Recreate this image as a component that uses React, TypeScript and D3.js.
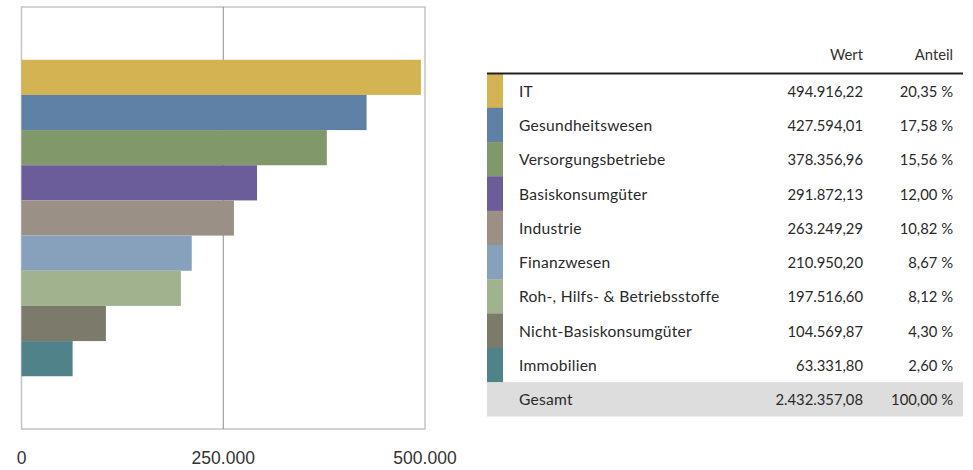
import React from "react";
import * as d3 from "d3";

const categories = [
  "IT",
  "Gesundheitswesen",
  "Versorgungsbetriebe",
  "Basiskonsumgüter",
  "Industrie",
  "Finanzwesen",
  "Roh-, Hilfs- & Betriebsstoffe",
  "Nicht-Basiskonsumgüter",
  "Immobilien",
];
const values = [494916.22, 427594.01, 378356.96, 291872.13, 263249.29, 210950.2, 197516.6, 104569.87, 63331.8];
const shares = [20.35, 17.58, 15.56, 12.0, 10.82, 8.67, 8.12, 4.3, 2.6];
const colors = ["#d4b353", "#5f81a6", "#81986a", "#6a5d9a", "#9a9085", "#87a1bd", "#a1b28f", "#7c7a6b", "#4f8389"];
const totalLabel = "Gesamt";
const totalValue = 2432357.08;
const totalShare = 100.0;
const xTicks = [0, 250000, 500000];
const headers = ["Wert", "Anteil"];

const de = d3.formatLocale({
  decimal: ",",
  thousands: ".",
  grouping: [3],
  currency: ["", " €"],
});
const fmtVal = de.format(",.2f");
const fmtTick = de.format(",.0f");
const fmtShare = (v: number) => de.format(",.2f")(v) + " %";

export default function App() {
  const W = 973;
  const H = 470;
  const plot = { left: 21.5, right: 425, top: 7, bottom: 429 };
  const x = d3.scaleLinear().domain([0, 500000]).range([plot.left, plot.right]);
  const y = d3
    .scaleBand<string>()
    .domain(categories)
    .range([plot.top, plot.bottom])
    .paddingInner(0)
    .paddingOuter(1.5);

  const tbl = { left: 487, right: 963, headerY: 73.5, rowH: 34.3, swatchW: 16, labelX: 519, wertX: 863, anteilX: 953 };
  const tableFont = "Lato, 'Noto Sans', sans-serif";
  const rowY = (i: number) => tbl.headerY + i * tbl.rowH;
  const labelSize = 15.6;
  const numSize = 14.8;
  const ls = 0.25;

  return (
    <svg width={W} height={H} style={{ position: "absolute", left: 0, top: 0, background: "#fff" }}>
      {/* plot frame */}
      <rect x={plot.left} y={plot.top} width={plot.right - plot.left} height={plot.bottom - plot.top} fill="#fff" stroke="#c4c4c4" strokeWidth={1.5} />
      {xTicks.slice(1, -1).map((t) => (
        <line key={t} x1={x(t)} x2={x(t)} y1={plot.top} y2={plot.bottom} stroke="#8c8c8c" strokeWidth={1} />
      ))}
      {categories.map((c, i) => (
        <rect key={c} x={x(0)} y={y(c)!} width={x(values[i]) - x(0)} height={y.bandwidth()} fill={colors[i]} />
      ))}
      {xTicks.map((t) => (
        <text key={t} x={x(t)} y={464} textAnchor="middle" fontFamily="'Liberation Sans', Arial, sans-serif" fontSize={17.5} fill="#333">
          {fmtTick(t)}
        </text>
      ))}

      {/* table */}
      <g fontFamily={tableFont} fill="#2a2a2a">
        <text x={tbl.wertX} y={60} textAnchor="end" fill="#333" fontSize={numSize}>{headers[0]}</text>
        <text x={tbl.anteilX} y={60} textAnchor="end" fill="#333" fontSize={numSize}>{headers[1]}</text>
        {categories.map((c, i) => (
          <g key={c}>
            <rect x={tbl.left} y={rowY(i)} width={tbl.swatchW} height={tbl.rowH + 0.3} fill={colors[i]} />
            <text x={tbl.labelX} y={rowY(i) + tbl.rowH / 2} dominantBaseline="central" fontSize={labelSize} letterSpacing={ls}>{c}</text>
            <text x={tbl.wertX} y={rowY(i) + tbl.rowH / 2} dominantBaseline="central" textAnchor="end" fontSize={numSize}>{fmtVal(values[i])}</text>
            <text x={tbl.anteilX} y={rowY(i) + tbl.rowH / 2} dominantBaseline="central" textAnchor="end" fontSize={numSize}>{fmtShare(shares[i])}</text>
          </g>
        ))}
        <rect x={tbl.left} y={rowY(categories.length)} width={tbl.right - tbl.left} height={tbl.rowH} fill="#dddddd" />
        <text x={tbl.labelX} y={rowY(categories.length) + tbl.rowH / 2} dominantBaseline="central" fontSize={labelSize} letterSpacing={ls}>{totalLabel}</text>
        <text x={tbl.wertX} y={rowY(categories.length) + tbl.rowH / 2} dominantBaseline="central" textAnchor="end" fontSize={numSize}>{fmtVal(totalValue)}</text>
        <text x={tbl.anteilX} y={rowY(categories.length) + tbl.rowH / 2} dominantBaseline="central" textAnchor="end" fontSize={numSize}>{fmtShare(totalShare)}</text>
        <line x1={tbl.left} x2={tbl.right} y1={tbl.headerY} y2={tbl.headerY} stroke="#222" strokeWidth={2} />
      </g>
    </svg>
  );
}
